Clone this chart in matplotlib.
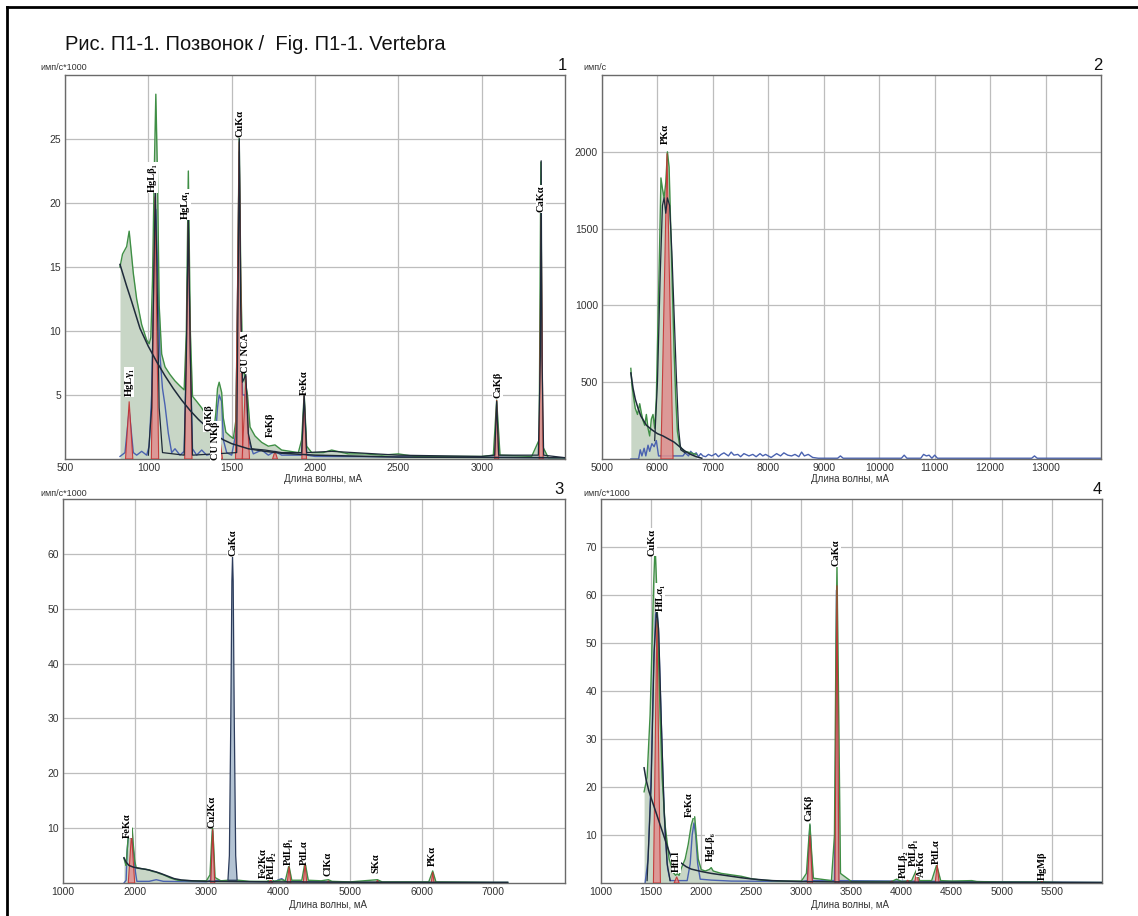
import matplotlib.pyplot as plt
from matplotlib.lines import Line2D

W, H = 1138, 916

TITLE = 'Рис. П1-1. Позвонок /  Fig. П1-1. Vertebra'
XLABEL = 'Длина волны, мА'

# Panel 1 (имп/с*1000)
green1 = [(830, 15.0), (845, 16.0), (870, 16.6), (885, 17.8), (895, 16.5), (910, 14.5), (930, 12.5),
          (960, 10.5), (990, 9.3), (1005, 9.0), (1015, 9.5), (1025, 14), (1035, 22), (1045, 28.5),
          (1055, 22), (1065, 12), (1080, 8.2), (1100, 7.2), (1130, 6.6), (1160, 6.1), (1190, 5.7),
          (1215, 5.4), (1228, 10), (1240, 22.5), (1252, 10), (1265, 4.9), (1290, 4.5), (1320, 4.0),
          (1350, 3.3), (1380, 2.6), (1395, 2.4), (1405, 3.6), (1415, 5.5), (1425, 6.0), (1440, 5.2),
          (1450, 3.2), (1465, 2.1), (1490, 1.8), (1510, 1.6), (1525, 3), (1535, 12), (1545, 25.2),
          (1555, 14), (1565, 8), (1580, 6.2), (1595, 5.0), (1610, 2.5), (1640, 1.8), (1680, 1.3),
          (1720, 1.0), (1760, 1.1), (1800, 0.7), (1850, 0.6), (1900, 0.5), (1920, 1.5), (1935, 5.1),
          (1950, 1.0), (1980, 0.5), (2050, 0.5), (2100, 0.7), (2200, 0.4), (2300, 0.4), (2400, 0.3),
          (2500, 0.4), (2600, 0.2), (3000, 0.2), (3070, 0.3), (3090, 4.6), (3110, 0.3), (3300, 0.2),
          (3345, 1.5), (3355, 23.2), (3365, 1.0), (3400, 0.1), (3500, 0.1)]
bg1 = [(830, 15.2), (870, 13.5), (900, 12.3), (950, 10.2), (1000, 8.8), (1050, 7.6), (1100, 6.5),
       (1150, 5.5), (1200, 4.6), (1250, 3.8), (1300, 3.1), (1350, 2.5), (1400, 1.9), (1450, 1.5),
       (1500, 1.2), (1600, 0.8), (1700, 0.6), (1800, 0.45), (2000, 0.3), (2500, 0.15), (3500, 0.1)]
blue1 = [(830, 0.2), (860, 0.5), (875, 2.5), (885, 3.8), (895, 2.5), (910, 0.5), (930, 0.3), (960, 0.6),
         (990, 0.3), (1005, 1.0), (1020, 5), (1035, 15), (1045, 19.5), (1055, 15), (1070, 8), (1085, 5.5),
         (1100, 4.2), (1120, 2), (1140, 0.5), (1160, 0.8), (1190, 0.3), (1215, 0.6), (1228, 8), (1240, 18),
         (1252, 8), (1265, 0.8), (1290, 0.3), (1320, 0.7), (1350, 0.3), (1380, 0.4), (1400, 1.2), (1415, 4),
         (1425, 5.0), (1440, 4.5), (1450, 1.5), (1470, 0.5), (1500, 0.3), (1525, 2), (1535, 12), (1545, 24),
         (1555, 12), (1565, 5), (1580, 5), (1600, 1.5), (1630, 0.4), (1680, 0.7), (1720, 0.3), (1760, 0.6),
         (1800, 0.3), (1920, 0.3), (1935, 4.5), (1950, 0.3), (2000, 0.2), (3500, 0.1)]
fit1 = [(1000, 0.3), (1020, 4), (1035, 16), (1042, 21), (1050, 16), (1065, 4), (1085, 0.5), (1215, 0.3),
        (1228, 8), (1240, 19), (1252, 8), (1265, 0.3), (1530, 0.5), (1538, 12), (1546, 25), (1554, 12),
        (1565, 6), (1585, 6.6), (1600, 2), (1620, 0.8), (1700, 0.7), (1800, 0.5), (1920, 0.5), (1935, 5.0),
        (1950, 0.5), (2100, 0.6), (2500, 0.3), (3000, 0.2), (3078, 0.3), (3090, 4.5), (3102, 0.3),
        (3340, 0.3), (3352, 8), (3357, 23.3), (3362, 8), (3372, 0.3), (3500, 0.1)]
peaks1 = [(885, 4.5, 22), (1040, 20.5, 22), (1240, 18.5, 22), (1395, 1.0, 15), (1430, 1.5, 15),
          (1545, 24.8, 22), (1585, 6.5, 22), (1760, 0.6, 15), (1935, 5.0, 14), (3090, 4.6, 12),
          (3357, 19.0, 12)]
labels1 = [('HgLγ₁', 885, 6.0), ('HgLβ₁', 1024, 22.0), ('HgLα₁', 1223, 19.9), ('CuKα', 1548, 26.2),
           ('CU NCA', 1584, 8.3), ('CuKβ', 1361, 3.2), ('CU NKβ', 1404, 1.4), ('FeKβ', 1735, 2.7),
           ('FeKα', 1934, 6.0), ('CaKβ', 3096, 5.8), ('CaKα', 3355, 20.3)]

# Panel 2 (имп/с)
green2 = [(5520, 590), (5540, 480), (5570, 400), (5600, 330), (5640, 290), (5680, 360), (5710, 300),
          (5740, 250), (5770, 220), (5800, 290), (5830, 200), (5860, 150), (5890, 260), (5920, 290),
          (5950, 200), (5980, 400), (6010, 900), (6040, 1400), (6063, 1830), (6090, 1760), (6120, 1700),
          (6150, 1800), (6180, 2000), (6210, 1900), (6240, 1500), (6270, 1100), (6300, 700), (6330, 400),
          (6360, 180), (6400, 90), (6450, 60), (6500, 50), (6600, 40), (6700, 30)]
bg2 = [(5520, 560), (5560, 460), (5600, 390), (5650, 330), (5700, 280), (5750, 250), (5800, 220),
       (5900, 190), (6000, 165), (6100, 150), (6200, 130), (6300, 110), (6400, 80), (6500, 50),
       (6600, 30), (6700, 15), (6800, 5)]
blue2 = [(5520, 0), (5660, 0), (5690, 60), (5720, 20), (5760, 70), (5790, 20), (5830, 90), (5860, 50),
         (5900, 100), (5940, 80), (5980, 120), (6020, 20), (6460, 20), (6500, 40), (6560, 20), (6600, 50),
         (6650, 30), (6700, 40), (6740, 15), (6780, 35), (6820, 20), (6870, 15), (6920, 30), (6980, 20),
         (7050, 35), (7100, 15), (7150, 30), (7200, 40), (7280, 20), (7330, 45), (7380, 25), (7450, 30),
         (7500, 15), (7560, 35), (7650, 20), (7720, 30), (7780, 15), (7850, 35), (7900, 20), (7950, 30),
         (8050, 10), (8150, 35), (8220, 20), (8280, 40), (8350, 25), (8420, 20), (8480, 30), (8550, 15),
         (8600, 45), (8650, 20), (8720, 30), (8800, 10), (8900, 5), (9250, 5), (9300, 20), (9350, 5),
         (10400, 5), (10450, 25), (10500, 5), (10750, 5), (10800, 30), (10850, 20), (10900, 25),
         (10950, 5), (11000, 25), (11050, 5), (12750, 5), (12800, 20), (12850, 5), (14000, 5)]
fit2 = [(5950, 120), (6000, 500), (6050, 1200), (6090, 1650), (6120, 1700), (6150, 1600), (6180, 1700),
        (6220, 1650), (6260, 1350), (6300, 950), (6340, 550), (6380, 200), (6420, 60), (6500, 40)]
peaks2 = [(6172, 1990, 110)]
labels2 = [('PKα', 6135, 2115)]

# Panel 3 (имп/с*1000)
green3 = [(1850, 4.5), (1865, 3.8), (1880, 3.2), (1895, 6), (1910, 8.5), (1930, 9.0), (1950, 9.5),
          (1965, 10.0), (1980, 7), (2000, 4), (2020, 2.8), (2060, 2.7), (2100, 2.6), (2150, 2.5),
          (2200, 2.4), (2250, 2.1), (2300, 2.0), (2350, 1.7), (2400, 1.5), (2450, 1.2), (2500, 0.9),
          (2550, 0.7), (2600, 0.5), (2700, 0.45), (2800, 0.4), (3000, 0.4), (3050, 1.5), (3070, 7),
          (3085, 10.2), (3100, 7), (3120, 1), (3200, 0.4), (3300, 0.5), (3450, 0.5), (3600, 0.3),
          (3850, 0.3), (3895, 0.9), (3950, 0.3), (4050, 0.6), (4100, 0.4), (4150, 3.2), (4190, 0.5),
          (4330, 0.5), (4375, 3.8), (4420, 0.5), (4600, 0.4), (4700, 0.6), (4750, 0.3), (5000, 0.2),
          (5385, 0.6), (5450, 0.2), (6100, 0.2), (6155, 2.2), (6200, 0.2), (7000, 0.1), (7200, 0.1)]
bg3 = [(1850, 4.6), (1880, 3.8), (1920, 3.2), (1980, 2.9), (2050, 2.7), (2150, 2.5), (2250, 2.2),
       (2350, 1.8), (2450, 1.3), (2550, 0.8), (2650, 0.55), (2800, 0.4), (3000, 0.3), (3500, 0.25),
       (4000, 0.2), (5000, 0.15), (7200, 0.1)]
blue3 = [(1850, 0), (1880, 0.5), (1895, 6), (1910, 8.3), (1935, 8.5), (1960, 8), (1990, 5), (2010, 2),
         (2030, 0.3), (2200, 0.3), (2300, 0.6), (2400, 0.3), (3000, 0.2), (3060, 0.5), (3085, 9.5),
         (3110, 0.5), (3300, 0.3), (3900, 0.2), (3950, 0.3), (4050, 0.8), (4100, 0.3), (5000, 0.1),
         (7200, 0.1)]
cak3 = [(3300, 0.5), (3320, 5), (3340, 30), (3355, 55), (3364, 59.5), (3373, 55), (3388, 30),
        (3408, 5), (3428, 0.5)]
peaks3 = [(1955, 9.0, 45), (3088, 9.8, 28), (3895, 0.7, 25), (4152, 3.0, 25), (4375, 3.5, 25),
          (4700, 0.4, 20), (5385, 0.5, 20), (6155, 2.0, 20)]
labels3 = [('FeKα', 1895, 10.5), ('Cu2Kα', 3084, 13.0), ('CaKα', 3364, 62.0), ('Fe2Kα', 3797, 3.6),
           ('PdLβ₂', 3909, 3.2), ('PdLβ₁', 4147, 5.7), ('PdLα', 4371, 5.6), ('ClKα', 4692, 3.4),
           ('SKα', 5364, 3.7), ('PKα', 6147, 4.9)]

# Panel 4 (имп/с*1000)
green4 = [(1430, 19), (1460, 22), (1490, 35), (1510, 50), (1525, 62), (1540, 70.5), (1555, 62),
          (1570, 50), (1590, 35), (1610, 22), (1640, 12), (1680, 5), (1720, 2.2), (1745, 1.6),
          (1760, 1.9), (1780, 1.6), (1800, 3), (1840, 5), (1870, 8), (1900, 12), (1920, 13.5),
          (1935, 13.8), (1950, 10), (1970, 5), (2000, 2.8), (2040, 2.5), (2080, 2.8), (2100, 3.2),
          (2120, 2.5), (2200, 2.0), (2300, 1.7), (2400, 1.4), (2500, 0.9), (2600, 0.6), (2800, 0.4),
          (3000, 0.4), (3050, 2), (3070, 8), (3085, 12.3), (3100, 7), (3120, 1), (3300, 0.5), (3330, 10),
          (3345, 50), (3355, 66), (3370, 40), (3390, 2), (3500, 0.3), (3900, 0.3), (3950, 0.8),
          (4000, 0.3), (4100, 0.5), (4150, 2.8), (4180, 0.5), (4300, 0.5), (4350, 3.8), (4390, 0.5),
          (4500, 0.4), (4700, 0.5), (4750, 0.3), (5000, 0.2), (5380, 0.2), (5400, 0.8), (5420, 0.2),
          (5600, 0.1), (6000, 0.1)]
bg4a = [(1430, 24), (1450, 21.5), (1480, 19), (1520, 16.5), (1560, 14), (1600, 11.5), (1640, 9),
        (1680, 6.5), (1705, 5.2)]
bg4b = [(1790, 4.3), (1850, 3.4), (1900, 2.9), (2000, 2.4), (2100, 2.0), (2200, 1.7), (2300, 1.4),
        (2400, 1.1), (2500, 0.85), (2700, 0.5), (3000, 0.3), (3500, 0.2), (6000, 0.1)]
blue4 = [(1440, 0), (1470, 5), (1500, 22), (1525, 45), (1545, 56), (1560, 57), (1575, 52), (1595, 38),
         (1615, 24), (1640, 10), (1665, 3), (1690, 0.5), (1860, 0.5), (1890, 4), (1910, 10),
         (1928, 12.5), (1945, 10), (1965, 4), (1990, 0.8), (2100, 0.6), (2300, 0.4), (3000, 0.3),
         (3060, 0.5), (3075, 8), (3085, 12), (3095, 8), (3110, 0.5), (3330, 0.5), (3340, 20),
         (3350, 61), (3360, 20), (3372, 0.5), (6000, 0.1)]
fit4 = [(1460, 0.5), (1500, 20), (1530, 48), (1555, 57), (1575, 53), (1600, 35), (1630, 15),
        (1660, 4), (1690, 0.5)]
peaks4 = [(1558, 55, 35), (1755, 1.3, 25), (3085, 10, 25), (3355, 62, 20), (3900, 0.4, 20),
          (4060, 0.6, 20), (4150, 2.5, 20), (4355, 3.8, 20), (5400, 0.4, 15)]
labels4 = [('CuKα', 1509, 71.0), ('HfLα₁', 1589, 59.5), ('HfLl', 1749, 4.5), ('FeKα', 1878, 16.3),
           ('HgLβ₆', 2088, 7.6), ('CaKβ', 3075, 15.7), ('CaKα', 3345, 68.8), ('PdLβ₂', 4015, 4.0),
           ('PdLβ₁', 4115, 6.5), ('ArKα', 4200, 4.0), ('PdLα', 4350, 6.5), ('HgMβ', 5400, 3.5)]

GREEN = '#3f8f45'
FILL = '#c8d6c6'
BLUE = '#4a62b0'
DARK = '#1e2a3a'
RED = '#c22a2a'
RED_FILL = '#e08f8f'
SERIF = ['Liberation Serif', 'DejaVu Serif']
SANS = ['Liberation Sans', 'DejaVu Sans']

plt.rcParams['font.family'] = SANS

fig = plt.figure(figsize=(W / 100, H / 100), dpi=100)


def px_axes(left, top, right, bottom):
    return fig.add_axes([left / W, 1 - bottom / H, (right - left) / W, (bottom - top) / H])


def style(ax, xlim, ylim, xt, yt):
    ax.set_xlim(xlim)
    ax.set_ylim(ylim)
    ax.set_xticks(xt)
    ax.set_yticks(yt)
    ax.grid(True, color='#bdbdbd', lw=0.9)
    ax.set_axisbelow(True)
    ax.tick_params(length=0, labelsize=7.5, labelcolor='#333333', pad=3)
    for s in ax.spines.values():
        s.set_color('#6a6a6a')
        s.set_linewidth(1)


def line(ax, pts, **kw):
    xs, ys = zip(*pts)
    ax.plot(xs, ys, **kw)


def draw(ax, green, bgs, blue, fit, peaks, labels):
    gx, gy = zip(*green)
    ax.fill_between(gx, gy, color=FILL, lw=0, zorder=1)
    line(ax, blue, color=BLUE, lw=1, zorder=2)
    ax.plot(gx, gy, color=GREEN, lw=1, zorder=3)
    for c, h, w in peaks:
        ax.fill([c - w, c, c + w], [0, h, 0], fc=RED_FILL, ec=RED, lw=0.8, alpha=0.85, zorder=4)
    for bg in bgs:
        line(ax, bg, color=DARK, lw=1.1, zorder=5)
    if fit:
        line(ax, fit, color=DARK, lw=0.9, zorder=5)
    for s, x, y in labels:
        ax.text(x, y, s, rotation=90, ha='center', va='center', fontsize=7.5, fontweight='bold',
                family=SERIF, zorder=6, bbox=dict(fc='white', ec='none', pad=0.5))


ax1 = px_axes(65, 75, 565, 459)
style(ax1, (500, 3500), (0, 30), range(500, 3001, 500), [5, 10, 15, 20, 25])
draw(ax1, green1, [bg1], blue1, fit1, peaks1, labels1)

ax2 = px_axes(602, 75, 1101, 459)
style(ax2, (5000, 14000), (0, 2500), range(5000, 13001, 1000), [500, 1000, 1500, 2000])
draw(ax2, green2, [bg2], blue2, fit2, peaks2, labels2)

ax3 = px_axes(63, 499, 565, 883)
style(ax3, (1000, 8000), (0, 70), range(1000, 7001, 1000), [10, 20, 30, 40, 50, 60])
cx, cy = zip(*cak3)
ax3.fill(cx, cy, fc='#b3c3d3', ec='#2c3c5c', lw=0.9, zorder=4)
draw(ax3, green3, [bg3], blue3, None, peaks3, labels3)

ax4 = px_axes(601, 499, 1102, 883)
style(ax4, (1000, 6000), (0, 80), range(1000, 5501, 500), [10, 20, 30, 40, 50, 60, 70])
draw(ax4, green4, [bg4a, bg4b], blue4, fit4, peaks4, labels4)

# texts around the panels
fig.text(65 / W, 1 - 44 / H, TITLE, fontsize=14.5, va='center', ha='left', color='#111111')
for x, y, s in [(40, 67, 'имп/с*1000'), (583, 67, 'имп/с'), (40, 494, 'имп/с*1000'), (583, 494, 'имп/с*1000')]:
    fig.text(x / W, 1 - y / H, s, fontsize=6.5, va='center', ha='left', color='#333333')
for x, y, s in [(562, 65, '1'), (1098, 65, '2'), (559, 489, '3'), (1097, 489, '4')]:
    fig.text(x / W, 1 - y / H, s, fontsize=12, va='center', ha='center', color='#111111')
for x, y in [(323, 479), (850, 479), (328, 905), (850, 905)]:
    fig.text(x / W, 1 - y / H, XLABEL, fontsize=7, va='center', ha='center', color='#333333')

# frame of the scanned page (left and top edges)
fig.add_artist(Line2D([7 / W, 7 / W], [0, 1 - 7 / H], color='black', lw=2))
fig.add_artist(Line2D([7 / W, 1], [1 - 7 / H, 1 - 7 / H], color='black', lw=2))

fig.savefig('out.png', dpi=100)
